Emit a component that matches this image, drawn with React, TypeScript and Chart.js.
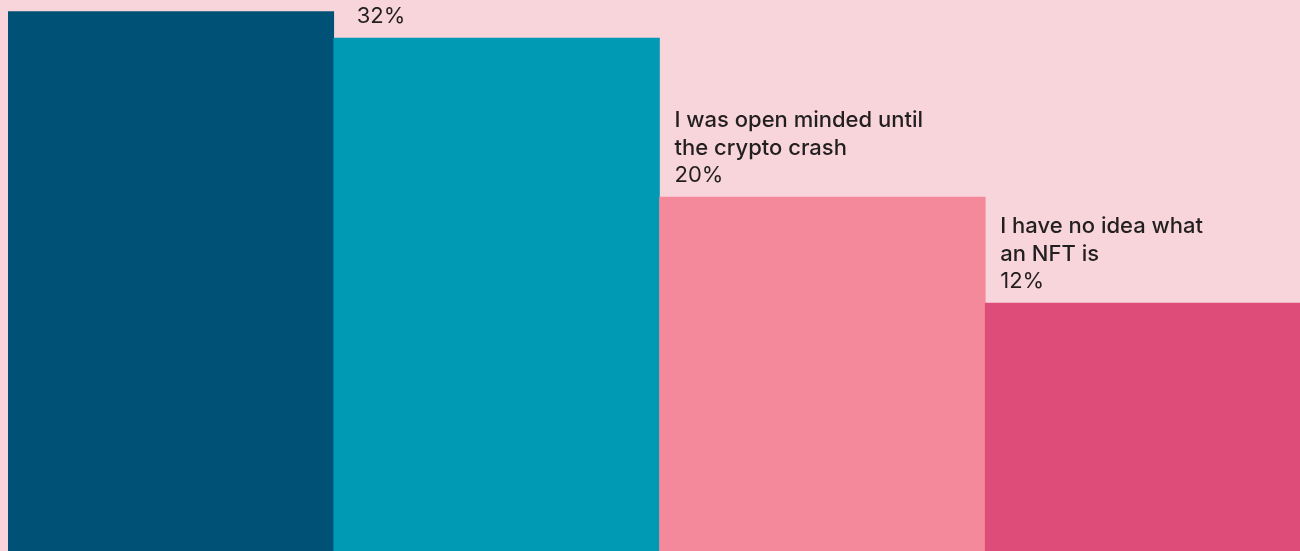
import React, { useEffect, useRef } from "react";
import { Chart, registerables } from "chart.js";

Chart.register(...registerables);

// Survey answers (label lines) and their shares in percent
const categories: string[][] = [
  ["NFTs were never", "for me"],
  ["I'm still curious", "about NFTs"],
  ["I was open minded until", "the crypto crash"],
  ["I have no idea what", "an NFT is"],
];
const shares: number[] = [34, 32, 20, 12];
const barColors: string[] = ["#005176", "#009ab5", "#f3899a", "#de4c79"];

const PAGE_BG = "#f7d5db";
const TEXT = "#231f20";

// Draws the wrapped answer text and the percentage above each bar
const barLabels = {
  id: "barLabels",
  afterDatasetsDraw(chart: any, _args: any, opts: any) {
    const { ctx } = chart;
    const meta = chart.getDatasetMeta(0);
    const insets: number[] = opts.insets || [];
    ctx.save();
    ctx.fillStyle = TEXT;
    ctx.textAlign = "left";
    ctx.textBaseline = "alphabetic";
    meta.data.forEach((bar: any, i: number) => {
      const left = bar.x - bar.width / 2 + (insets[i] ?? 15);
      const pctBase = bar.y - 15;
      ctx.font = "400 22px Inter";
      ctx.fillText(shares[i] + "%", left, pctBase);
      ctx.font = "500 22px Inter";
      const lines = categories[i];
      lines.forEach((line, j) => {
        const offset = (lines.length - j) * 27.5;
        ctx.fillText(line, left, pctBase - offset);
      });
    });
    ctx.restore();
  },
};

export default function App() {
  const canvasRef = useRef<HTMLCanvasElement | null>(null);

  useEffect(() => {
    document.body.style.backgroundColor = PAGE_BG;
    const canvas = canvasRef.current;
    if (!canvas) return;
    const chart = new Chart(canvas, {
      type: "bar",
      data: {
        labels: categories.map((c) => c.join(" ")),
        datasets: [
          {
            data: shares,
            backgroundColor: barColors,
            borderWidth: 0,
            barPercentage: 1,
            categoryPercentage: 1,
            base: -8,
          },
        ],
      },
      options: {
        animation: false,
        responsive: true,
        maintainAspectRatio: false,
        layout: { padding: 0 },
        scales: {
          x: { display: false, offset: true },
          y: { display: false, min: -8, max: 36 },
        },
        plugins: {
          legend: { display: false },
          tooltip: { enabled: false },
          barLabels: { insets: [15, 23, 15, 15] },
        } as any,
      },
      plugins: [barLabels],
    });
    return () => chart.destroy();
  }, []);

  return (
    <div
      style={{
        position: "fixed",
        left: 0,
        top: 0,
        width: "100vw",
        height: "100vh",
        overflow: "hidden",
        background: PAGE_BG,
      }}
    >
      <div
        style={{
          position: "absolute",
          left: "8px",
          top: "-15px",
          width: "1303px",
          height: "583px",
        }}
      >
        <canvas ref={canvasRef} />
      </div>
    </div>
  );
}
